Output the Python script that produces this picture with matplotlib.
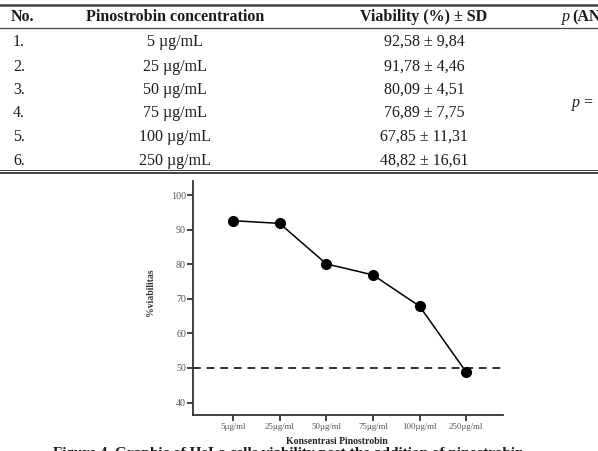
import matplotlib
matplotlib.use("Agg")
import matplotlib.pyplot as plt

## Data ##

# table rows
row_no = ['1.', '2.', '3.', '4.', '5.', '6.']
conc_labels = ['5 µg/mL', '25 µg/mL', '50 µg/mL', '75 µg/mL', '100 µg/mL', '250 µg/mL']
viability = [92.58, 91.78, 80.09, 76.89, 67.85, 48.82]
sd = [9.84, 4.46, 4.51, 7.75, 11.31, 16.61]
p_text = 'p = 0,000'

# chart
x_labels = ['5µg/ml', '25µg/ml', '50µg/ml', '75µg/ml', '100µg/ml', '250µg/ml']
y_ticks = [40, 50, 60, 70, 80, 90, 100]
cutoff = 50

W, H = 598, 451
serif = ['Liberation Serif', 'DejaVu Serif']
plt.rcParams['font.family'] = serif

fig = plt.figure(figsize=(W / 100, H / 100), dpi=100)

### Table drawn in pixel coordinates ###
tab = fig.add_axes([0, 0, 1, 1])
tab.set_xlim(0, W)
tab.set_ylim(H, 0)
tab.axis('off')

line_col = '#444444'
tab.plot([0, W], [5, 5], color=line_col, lw=1.8)
tab.plot([0, W], [28, 28], color=line_col, lw=0.9)
tab.plot([0, W], [170, 170], color=line_col, lw=0.8)
tab.plot([0, W], [173, 173], color=line_col, lw=1.4)

txt_col = '#1a1a1a'
fs = 11.5
head_y = 17
tab.text(11, head_y, 'No.', ha='left', va='center', fontsize=fs, weight='bold', color=txt_col)
tab.text(175, head_y, 'Pinostrobin concentration', ha='center', va='center', fontsize=fs,
         weight='bold', color=txt_col)
tab.text(424, head_y, 'Viability (%) ± SD', ha='center', va='center', fontsize=fs,
         weight='bold', color=txt_col)
tab.text(562, head_y, 'p', ha='left', va='center', fontsize=fs, style='italic', color=txt_col)
tab.text(572, head_y, '(ANOVA)', ha='left', va='center', fontsize=fs, weight='bold', color=txt_col)

row_y = [42, 67, 90, 113, 137, 161]
for i in range(len(row_no)):
    vtxt = '%s ± %s' % (('%.2f' % viability[i]).replace('.', ','), ('%.2f' % sd[i]).replace('.', ','))
    tab.text(13, row_y[i], row_no[i], ha='left', va='center', fontsize=fs, color=txt_col)
    tab.text(175, row_y[i], conc_labels[i], ha='center', va='center', fontsize=fs, color=txt_col)
    tab.text(424, row_y[i], vtxt, ha='center', va='center', fontsize=fs, color=txt_col)
tab.text(572, 103, p_text, ha='left', va='center', fontsize=fs, style='italic', color=txt_col)

# caption, cut at the bottom edge like the page crop
tab.text(53, 446.5, 'Figure 4. Graphic of HeLa cells viability post the addition of pinostrobin',
         ha='left', va='top', fontsize=11, weight='bold', color=txt_col)

### Line chart ###
ax = fig.add_axes([193 / W, 1 - 415 / H, (503 - 193) / W, (415 - 181) / H])
ax.patch.set_alpha(0)
xs = list(range(1, len(x_labels) + 1))
ax.plot(xs, viability, color='black', lw=1.1, marker='o', markersize=7, zorder=3)
ax.axhline(cutoff, color='#333333', lw=1.4, linestyle=(0, (4, 3)), zorder=2)

ax.set_xlim(0.14, 6.79)
ax.set_ylim(36.4, 104.05)
ax.set_xticks(xs)
ax.set_xticklabels(x_labels)
ax.set_yticks(y_ticks)
for s in ['top', 'right']:
    ax.spines[s].set_visible(False)
for s in ['left', 'bottom']:
    ax.spines[s].set_color('#333333')
    ax.spines[s].set_linewidth(1.3)
ax.tick_params(axis='y', length=4, width=1.3, color='#333333', pad=1, labelsize=7.2, labelcolor='#555555')
ax.tick_params(axis='x', length=4, width=1.3, color='#333333', pad=2, labelsize=6.3, labelcolor='#555555')

fig.text(150 / W, 1 - 292 / H, '%viabilitas', rotation=90, ha='center', va='center',
         fontsize=7, weight='bold', color='#333333')
fig.text(337 / W, 1 - 442 / H, 'Konsentrasi Pinostrobin', ha='center', va='center',
         fontsize=7, weight='bold', color='#222222')

plt.savefig('out.png', dpi=100)
